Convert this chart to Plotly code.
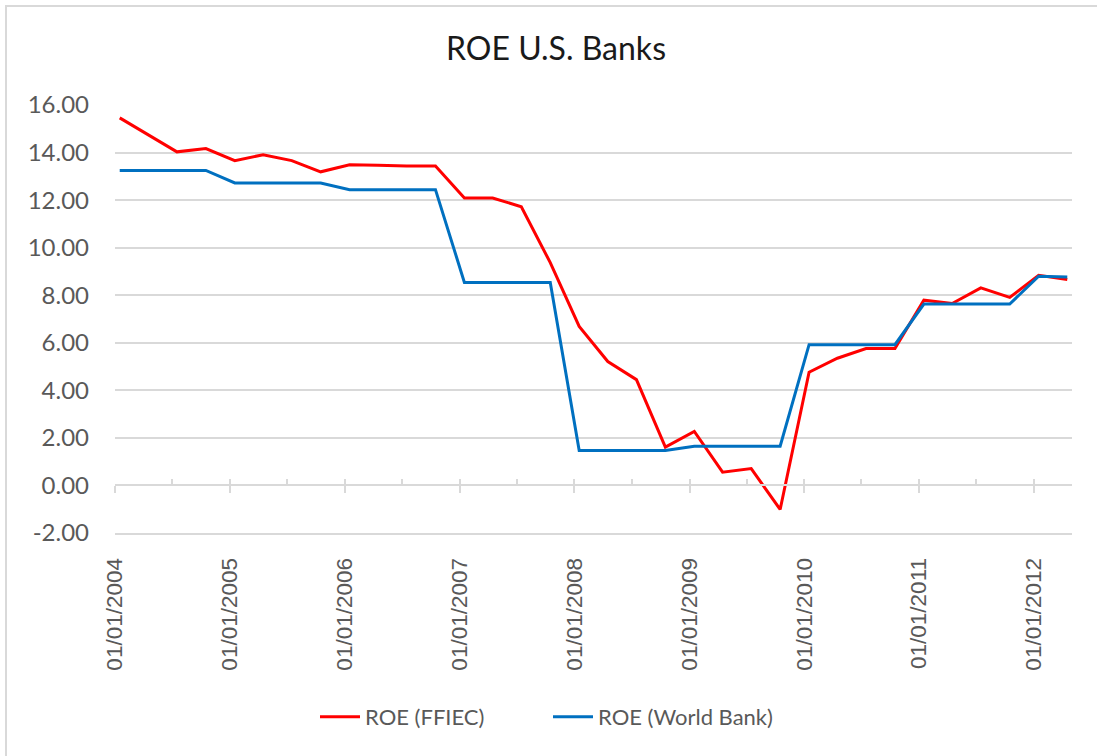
import plotly.graph_objects as go
import pandas as pd

# Quarterly observations, 2004 Q1 .. 2012 Q2
quarters = pd.date_range("2004-01-01", "2012-04-01", freq="QS")
# Excel date axis (base unit: months, points between tick marks) -> mid-month positions
dates = quarters + pd.Timedelta(days=15)

roe_ffiec = [15.46, 14.75, 14.03, 14.17, 13.66, 13.91, 13.66, 13.19,
             13.49, 13.47, 13.43, 13.43, 12.09, 12.09, 11.72, 9.37,
             6.69, 5.21, 4.45, 1.61, 2.27, 0.56, 0.71, -1.01,
             4.76, 5.35, 5.76, 5.76, 7.79, 7.65, 8.31, 7.91,
             8.84, 8.66]

roe_world_bank = [13.25, 13.25, 13.25, 13.25, 12.72, 12.72, 12.72, 12.72,
                  12.44, 12.44, 12.44, 12.44, 8.54, 8.54, 8.54, 8.54,
                  1.47, 1.47, 1.47, 1.47, 1.65, 1.65, 1.65, 1.65,
                  5.92, 5.92, 5.92, 5.92, 7.63, 7.63, 7.63, 7.63,
                  8.80, 8.77]

y_ticks = [-2, 0, 2, 4, 6, 8, 10, 12, 14, 16]
y_tick_labels = ["-2.00", "0.00", "2.00", "4.00", "6.00", "8.00",
                 "10.00", "12.00", "14.00", "16.00"]

W, H = 1097, 756
ML, MR, MT, MB = 115, 25, 105, 223
PW, PH = W - ML - MR, H - MT - MB

GRID = "#d9d9d9"
TXT = "#595959"
FONT = "Lato, Calibri, 'Open Sans', sans-serif"

fig = go.Figure()
fig.add_trace(go.Scatter(x=dates, y=roe_ffiec, mode="lines", name="ROE (FFIEC)",
                         line=dict(color="#FF0000", width=3)))
fig.add_trace(go.Scatter(x=dates, y=roe_world_bank, mode="lines", name="ROE (World Bank)",
                         line=dict(color="#0070C0", width=3)))

xrange = ["2004-01-01", "2012-05-01"]

fig.update_layout(
    width=W, height=H,
    margin=dict(l=ML, r=MR, t=MT, b=MB),
    paper_bgcolor="white", plot_bgcolor="white",
    title=dict(text="ROE U.S. Banks", x=556 / W, xanchor="center", y=1 - 49 / H,
               yanchor="middle", xref="container", yref="container",
               font=dict(family=FONT, size=32, color="#1a1a1a")),
    font=dict(family=FONT, color=TXT),
    showlegend=True,
    legend=dict(orientation="h", x=(548 - ML) / PW, xanchor="center",
                y=(H - MB - 717) / PH, yanchor="middle",
                font=dict(family=FONT, size=22, color=TXT), itemwidth=40,
                traceorder="normal", entrywidth=178, entrywidthmode="pixels"),
    xaxis=dict(type="date", range=xrange, tickmode="linear", tick0="2004-01-01", dtick="M12",
               tickformat="%d/%m/%Y", tickangle=-90, ticks="", showgrid=False,
               showline=True, linecolor=GRID, linewidth=2,
               tickfont=dict(family="Liberation Sans, Arial, sans-serif", size=22.5, color=TXT),
               ticklabelstandoff=14, zeroline=False),
    xaxis2=dict(type="date", range=xrange, overlaying="x", anchor="free", position=2 / 18,
                tickmode="linear", tick0="2004-01-01", dtick="M12", ticks="outside",
                ticklen=7, tickwidth=2, tickcolor=GRID, showticklabels=False, showgrid=False,
                showline=True, linecolor=GRID, linewidth=2, zeroline=False),
    xaxis3=dict(type="date", range=xrange, overlaying="x", anchor="free", position=2 / 18,
                tickmode="linear", tick0="2004-01-01", dtick="M6", ticks="inside",
                ticklen=6, tickwidth=2, tickcolor=GRID, showticklabels=False, showgrid=False,
                showline=False, zeroline=False),
    yaxis=dict(range=[-2, 16], tickmode="array", tickvals=y_ticks, ticktext=y_tick_labels,
               showgrid=True, gridcolor=GRID, gridwidth=2, zeroline=False, ticks="",
               showline=False, tickfont=dict(family=FONT, size=24, color=TXT),
               ticklabelstandoff=25),
)

# dummy traces to make the overlay axes render
fig.add_trace(go.Scatter(x=[dates[0]], y=[None], xaxis="x2", showlegend=False, hoverinfo="skip"))
fig.add_trace(go.Scatter(x=[dates[0]], y=[None], xaxis="x3", showlegend=False, hoverinfo="skip"))

# chart-area border
fig.add_shape(type="rect", xref="paper", yref="paper",
              x0=(6 - ML) / PW, x1=(W + 20 - ML) / PW,
              y0=(H - MB - (H + 20)) / PH, y1=(H - MB - 6) / PH,
              line=dict(color=GRID, width=2), fillcolor="rgba(0,0,0,0)", layer="below")

fig.write_html("out.html")
